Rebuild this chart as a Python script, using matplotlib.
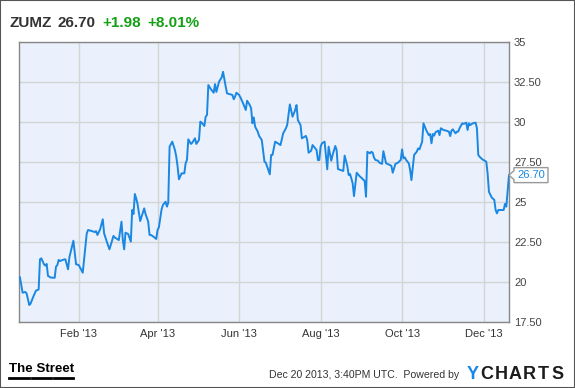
import matplotlib
matplotlib.use("Agg")
import matplotlib.pyplot as plt
import matplotlib.transforms as mtransforms
from matplotlib.patches import Rectangle, Polygon
from matplotlib.lines import Line2D
import pandas as pd

plt.rcParams['font.family'] = ['Liberation Sans', 'DejaVu Sans']

# ZUMZ daily closes, day offsets counted from 2012-12-20
start = pd.Timestamp('2012-12-20')
day_offsets = [-1, 1, 3, 4, 6, 7, 9, 11, 13, 14, 15, 17, 18, 19, 20, 22, 25, 26, 27, 28,
               29, 31, 33, 35, 36, 39, 41, 43, 46, 49, 50, 53, 55, 56, 57, 59, 61, 62, 64, 66,
               69, 70, 73, 75, 76, 77, 78, 80, 82, 83, 84, 85, 86, 87, 89, 90, 92, 93, 95, 96,
               97, 99, 101, 102, 103, 105, 106, 107, 108, 109, 110, 111, 113, 115, 116, 117, 118, 120, 122, 123,
               124, 125, 127, 128, 130, 131, 133, 134, 135, 137, 138, 139, 140, 142, 144, 145, 146, 148, 150, 151,
               153, 154, 158, 159, 160, 161, 163, 164, 166, 167, 168, 169, 171, 172, 173, 174, 175, 177, 178, 180,
               182, 183, 186, 187, 188, 190, 192, 194, 196, 198, 199, 201, 203, 205, 206, 207, 209, 210, 213, 214,
               215, 217, 218, 219, 221, 222, 223, 224, 225, 227, 229, 230, 232, 233, 235, 236, 237, 239, 241, 242,
               244, 245, 246, 247, 248, 249, 251, 253, 255, 257, 258, 259, 261, 262, 263, 264, 265, 267, 268, 270,
               271, 273, 274, 276, 277, 278, 280, 282, 284, 285, 286, 287, 288, 290, 291, 292, 294, 296, 297, 298,
               300, 301, 303, 305, 306, 307, 308, 309, 310, 312, 313, 314, 316, 318, 320, 321, 322, 323, 325, 326,
               327, 328, 330, 331, 333, 334, 335, 336, 338, 340, 341, 342, 343, 345, 348, 349, 350, 352, 354, 355,
               356, 357, 358, 360, 361, 362, 363, 365]
prices = [20.31, 19.35, 19.40, 19.30, 18.58, 18.68, 19.10, 19.48, 19.55, 21.44, 21.50, 21.13, 21.04, 21.15, 20.40, 20.30, 20.28, 20.98, 21.08, 21.40,
          21.33, 21.40, 21.44, 20.81, 21.56, 22.60, 21.13, 21.08, 20.60, 23.06, 23.27, 23.20, 23.14, 23.20, 22.96, 23.31, 23.94, 23.06, 22.54, 22.06,
          22.90, 22.80, 22.64, 23.79, 22.64, 22.06, 23.10, 23.02, 22.54, 24.52, 24.27, 25.52, 25.25, 24.90, 23.83, 24.10, 24.62, 24.27, 23.79, 22.96,
          22.96, 22.85, 22.71, 23.27, 23.44, 24.56, 24.83, 24.94, 25.04, 24.73, 24.98, 28.48, 28.79, 28.27, 27.85, 27.23, 26.44, 26.81, 26.81, 27.44,
          27.65, 28.94, 28.65, 28.73, 29.00, 28.65, 28.90, 30.04, 29.98, 29.77, 30.35, 30.46, 32.33, 32.06, 31.85, 32.39, 31.90, 32.54, 32.81, 33.16,
          32.23, 31.81, 31.71, 31.44, 31.60, 31.85, 31.71, 31.56, 31.19, 30.98, 30.77, 31.35, 31.08, 30.88, 29.94, 30.31, 29.73, 29.41, 29.15, 28.89,
          27.54, 27.48, 26.75, 27.96, 27.96, 28.79, 28.69, 28.58, 29.31, 29.62, 29.83, 31.12, 30.35, 30.77, 31.08, 30.14, 29.83, 29.00, 29.15, 28.90,
          28.10, 28.23, 28.58, 28.48, 28.27, 27.64, 27.64, 28.48, 28.69, 28.79, 27.06, 28.48, 27.60, 27.96, 28.52, 28.27, 27.08, 27.02, 26.96, 27.92,
          27.27, 26.71, 26.77, 26.50, 26.19, 25.39, 26.85, 26.65, 26.50, 26.33, 25.35, 28.16, 28.06, 28.16, 28.10, 27.79, 27.65, 27.60, 27.48, 27.40,
          28.20, 27.44, 27.40, 27.33, 27.27, 26.85, 27.40, 27.48, 27.65, 28.31, 27.75, 27.81, 27.65, 27.44, 27.02, 26.39, 27.96, 28.17, 28.37, 28.31,
          28.79, 29.94, 29.52, 29.20, 29.27, 28.69, 29.27, 29.17, 29.38, 29.48, 29.20, 29.63, 29.52, 29.48, 29.42, 29.14, 29.48, 29.56, 29.31, 29.42,
          29.42, 29.63, 29.94, 29.90, 29.98, 29.52, 29.94, 29.83, 29.94, 29.98, 29.63, 27.96, 27.85, 27.69, 27.54, 26.81, 25.66, 25.31, 25.15, 24.52,
          24.31, 24.52, 24.52, 24.52, 24.52, 24.90, 24.73, 26.70]

y_ticks = [17.5, 20, 22.5, 25, 27.5, 30, 32.5, 35]
y_tick_labels = ['17.50', '20', '22.50', '25', '27.50', '30', '32.50', '35']
x_ticks = ['2013-02-01', '2013-04-01', '2013-06-01', '2013-08-01', '2013-10-01', '2013-12-01']
x_tick_labels = ["Feb '13", "Apr '13", "Jun '13", "Aug '13", "Oct '13", "Dec '13"]

dates = start + pd.to_timedelta(day_offsets, unit='D')
blue = '#1a87e3'

fig = plt.figure(figsize=(5.75, 3.88), dpi=100)
ax = fig.add_axes([0.0337, 0.1693, 0.8515, 0.7216])
ax.set_facecolor('#eaf1fd')
ax.plot(dates, prices, color=blue, lw=1.4, zorder=3)
ax.set_ylim(17.5, 35)
ax.set_xlim(start - pd.Timedelta(hours=34), dates[-1])

ax.yaxis.tick_right()
ax.set_yticks(y_ticks)
ax.set_yticklabels(y_tick_labels)
ax.set_xticks(pd.to_datetime(x_ticks))
ax.set_xticklabels(x_tick_labels)
ax.tick_params(axis='y', length=0, pad=3.6, labelsize=8, labelcolor='#444444')
ax.tick_params(axis='x', length=0, pad=4.5, labelsize=8, labelcolor='#333333')
ax.grid(color='#d4d4d4', lw=1)
for s in ax.spines.values():
    s.set_color('#888888')
    s.set_linewidth(1)

# last price flag
anchor = mtransforms.Affine2D() + mtransforms.ScaledTranslation(1.0, prices[-1], ax.get_yaxis_transform())
flag = Polygon([(0, 0), (5, 4.5), (5, 7.5), (39, 7.5), (39, -7.5), (5, -7.5), (5, -4.5)],
               closed=True, transform=anchor, facecolor='white', edgecolor='#999999', lw=1,
               clip_on=False, zorder=5)
fig.add_artist(flag)
fig.text(0, 0, f'{prices[-1]:.2f}', transform=anchor + mtransforms.Affine2D().translate(22, 0),
         ha='center', va='center', fontsize=8, color=blue, zorder=6)

# header
fig.text(10 / 575, 1 - 27 / 388, 'ZUMZ', fontsize=11, fontweight='bold', color='#333333')
fig.text(58 / 575, 1 - 27 / 388, '26.70', fontsize=11, fontweight='bold', color='#333333')
fig.text(102 / 575, 1 - 27 / 388, '+1.98', fontsize=11, fontweight='bold', color='#13a013')
fig.text(147 / 575, 1 - 27 / 388, '+8.01%', fontsize=11, fontweight='bold', color='#13a013')

# footer
fig.text(9 / 575, 1 - 372 / 388, 'The Street', fontsize=9.6, fontweight='bold', color='black')
for x0, x1 in [(9, 29), (32, 51), (54, 73)]:
    fig.add_artist(Line2D([x0 / 575, x1 / 575], [1 - 378 / 388] * 2, color='black', lw=2))
fig.text(269 / 575, 1 - 375 / 388, 'Dec 20 2013, 3:40PM UTC.  Powered by', fontsize=7.6,
         color='#333333', va='center')
for i, ch in enumerate('YCHARTS'):
    fig.text((473 + i * 14.1) / 575, 1 - 374.5 / 388, ch, fontsize=13, fontweight='heavy',
             color=blue if ch == 'Y' else '#1c1c1c', ha='center', va='center')

fig.patches.append(Rectangle((0, 0), 1, 1, transform=fig.transFigure, fill=False,
                             edgecolor='#555555', lw=1.5))

fig.savefig('out.png', dpi=100)
